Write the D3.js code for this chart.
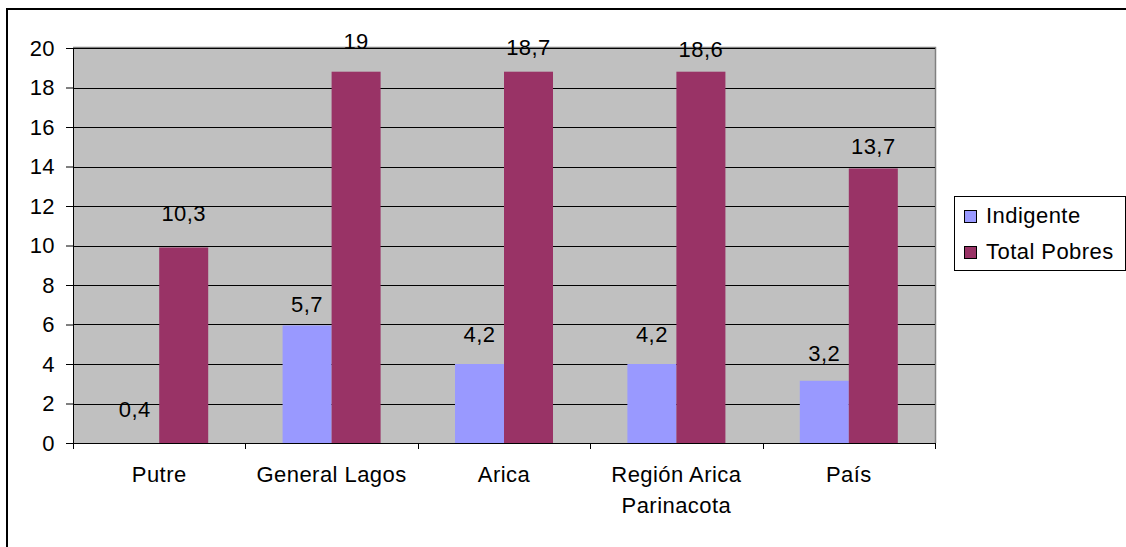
<!DOCTYPE html>
<html>
<head>
<meta charset="utf-8">
<script src="https://cdn.jsdelivr.net/npm/d3@7/dist/d3.min.js"></script>
<style>
  html, body { margin: 0; padding: 0; background: #fff; }
  svg { display: block; font-family: "Liberation Sans", Arial, sans-serif; }
  text { letter-spacing: 0.45px; }
</style>
</head>
<body>
<svg id="chart" width="1126" height="547"></svg>
<script>
// ---- data ----
const categories = ["Putre", "General Lagos", "Arica", "Región Arica Parinacota", "País"];
const seriesNames = ["Indigente", "Total Pobres"];
// bar heights as drawn in the picture
const indigenteBars = [0, 5.95, 4.0, 4.0, 3.15];
const totalPobresBars = [9.9, 18.8, 18.8, 18.8, 13.9];
// data labels as written in the picture
const indigenteLabels = [0.4, 5.7, 4.2, 4.2, 3.2];
const totalPobresLabels = [10.3, 19, 18.7, 18.6, 13.7];
const yTicks = [0, 2, 4, 6, 8, 10, 12, 14, 16, 18, 20];
const colors = ["#9999FF", "#993366"];

const svg = d3.select("#chart");
const FS = 22;
const fmt = v => String(v).replace(".", ",");

// outer frame
svg.append("rect").attr("x", 7).attr("y", 9).attr("width", 1140).attr("height", 560)
  .attr("fill", "#fff").attr("stroke", "#000").attr("stroke-width", 2);

const plot = { left: 73, right: 935, top: 48, bottom: 443 };
const y = d3.scaleLinear().domain([0, 20]).range([plot.bottom, plot.top]);
const x0 = d3.scaleBand().domain(categories).range([plot.left, plot.right]).padding(0);
const x1 = d3.scaleBand().domain(seriesNames).range([0, x0.bandwidth()])
  .paddingInner(0).paddingOuter(0.759);

// plot area
svg.append("rect").attr("x", plot.left).attr("y", plot.top)
  .attr("width", plot.right - plot.left).attr("height", plot.bottom - plot.top)
  .attr("fill", "#C0C0C0");
// gray border top/right
svg.append("path")
  .attr("d", `M${plot.left},${plot.top - 0.5}H${plot.right + 0.5}V${plot.bottom}`)
  .attr("fill", "none").attr("stroke", "#808080").attr("stroke-width", 1.5);

// gridlines
svg.append("g").selectAll("line").data(yTicks.filter(t => t > 0)).join("line")
  .attr("x1", plot.left).attr("x2", plot.right)
  .attr("y1", d => Math.round(y(d)) + 0.5).attr("y2", d => Math.round(y(d)) + 0.5)
  .attr("stroke", "#000").attr("stroke-width", 1);

// bars
const rows = categories.map((c, i) => ({
  cat: c,
  vals: [
    { s: seriesNames[0], v: indigenteBars[i], lab: indigenteLabels[i] },
    { s: seriesNames[1], v: totalPobresBars[i], lab: totalPobresLabels[i] }
  ]
}));
const groups = svg.append("g").selectAll("g").data(rows).join("g")
  .attr("transform", d => `translate(${x0(d.cat)},0)`);
groups.selectAll("rect").data(d => d.vals).join("rect")
  .attr("x", d => x1(d.s)).attr("width", x1.bandwidth())
  .attr("y", d => y(d.v)).attr("height", d => y(0) - y(d.v))
  .attr("fill", (d, i) => colors[i]);
groups.selectAll("text").data(d => d.vals).join("text")
  .attr("x", d => x1(d.s) + x1.bandwidth() / 2)
  .attr("y", d => y(d.lab) - 18.5)
  .attr("text-anchor", "middle").attr("font-size", FS).attr("fill", "#000")
  .text(d => fmt(d.lab));

// y axis
const yAxis = svg.append("g").attr("transform", `translate(${plot.left},0)`)
  .call(d3.axisLeft(y).tickValues(yTicks).tickSize(7).tickPadding(11).tickFormat(d3.format("d")));
yAxis.select(".domain").attr("stroke", "#000");
yAxis.selectAll(".tick line").attr("stroke", "#000");
yAxis.selectAll("text").attr("font-size", FS).attr("font-family", "Liberation Sans, Arial, sans-serif").attr("fill", "#000");

// x axis line and boundary ticks
svg.append("line").attr("x1", plot.left).attr("x2", plot.right)
  .attr("y1", plot.bottom + 0.5).attr("y2", plot.bottom + 0.5).attr("stroke", "#000");
const bounds = categories.map(c => x0(c)).concat([plot.right]);
svg.append("g").selectAll("line").data(bounds).join("line")
  .attr("x1", d => Math.round(d) + 0.5).attr("x2", d => Math.round(d) + 0.5)
  .attr("y1", plot.bottom).attr("y2", plot.bottom + 6).attr("stroke", "#000");

// category labels with wrapping
const catText = svg.append("g").selectAll("text").data(categories).join("text")
  .attr("x", d => x0(d) + x0.bandwidth() / 2).attr("y", 482)
  .attr("text-anchor", "middle").attr("font-size", FS).attr("fill", "#000");
catText.each(function(d) {
  const t = d3.select(this);
  const words = d.split(" ");
  const maxW = x0.bandwidth() - 6;
  let line = [];
  let tspan = t.append("tspan").attr("x", t.attr("x")).attr("dy", 0);
  words.forEach(w => {
    line.push(w);
    tspan.text(line.join(" "));
    if (tspan.node().getComputedTextLength() > maxW && line.length > 1) {
      line.pop();
      tspan.text(line.join(" "));
      line = [w];
      tspan = t.append("tspan").attr("x", t.attr("x")).attr("dy", 31).text(w);
    }
  });
});

// legend
const lg = svg.append("g");
lg.append("rect").attr("x", 954.5).attr("y", 196.5).attr("width", 171).attr("height", 74)
  .attr("fill", "#fff").attr("stroke", "#000").attr("stroke-width", 1);
const li = lg.selectAll("g.item").data(seriesNames).join("g").attr("class", "item")
  .attr("transform", (d, i) => `translate(0,${i * 36})`);
li.append("rect").attr("x", 964.5).attr("y", 210.5).attr("width", 12).attr("height", 12)
  .attr("fill", (d, i) => colors[i]).attr("stroke", "#000").attr("stroke-width", 1);
li.append("text").attr("x", 986).attr("y", 223).attr("font-size", FS).attr("fill", "#000")
  .text(d => d);
</script>
</body>
</html>
